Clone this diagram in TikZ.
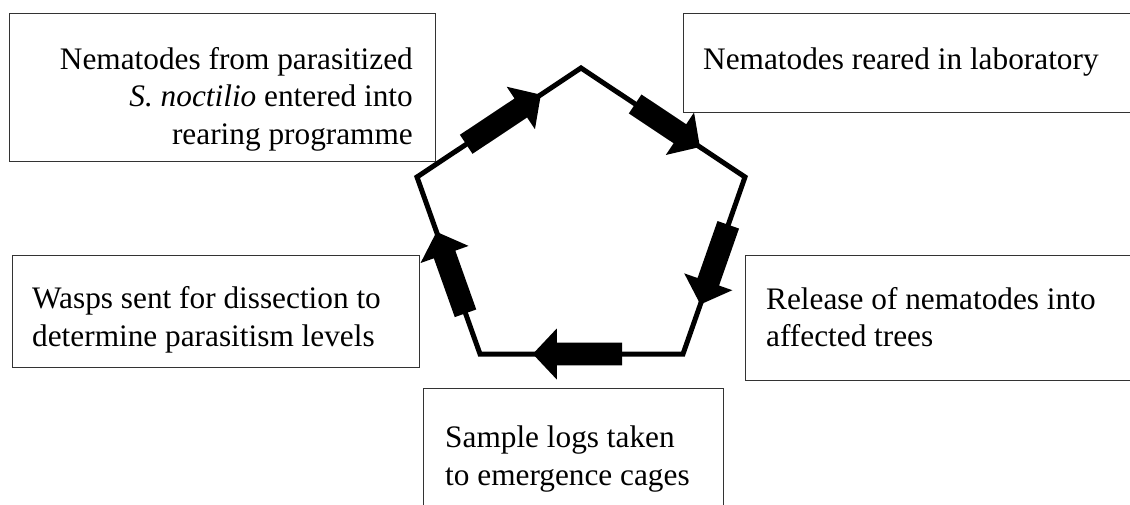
\documentclass[tikz,border=0pt]{standalone}
\usepackage{fontspec}
\setmainfont{Liberation Serif}
\usetikzlibrary{calc}
\tikzset{
  box/.style={draw=black!80, line width=0.9pt, inner sep=0pt},
  txt/.style={inner sep=0pt, font=\fontsize{31.3}{37.5}\selectfont},
  cyc/.style={line width=5pt, line join=miter},
  blk/.style={fill=black, draw=none},
}
\newcommand{\blkarrow}[4]{%
  \coordinate (S) at ($(#1)!#3!(#2)$);
  \coordinate (P) at ($(#1)!#4!(#2)$);
  \coordinate (H) at ($(P)!24pt!(S)$);
  \fill[blk] ($(S)!11.4pt!90:(P)$) -- ($(H)!11.4pt!90:(P)$) -- ($(H)!25.5pt!90:(P)$)
    -- (P) -- ($(H)!25.5pt!-90:(P)$) -- ($(H)!11.4pt!-90:(P)$) -- ($(S)!11.4pt!-90:(P)$) -- cycle;
}
\begin{document}
\begin{tikzpicture}[x=1pt,y=-1pt]
\useasboundingbox (0,0) rectangle (1130,505);
% boxes
\node[box, minimum width=426pt, minimum height=148pt] (b1) at (222,87) {};
\node[box, minimum width=452pt, minimum height=99pt] (b2) at (909,62.5) {};
\node[box, minimum width=390pt, minimum height=125pt] (b3) at (940,317.5) {};
\node[box, minimum width=300pt, minimum height=141pt] (b4) at (573,459) {};
\node[box, minimum width=407pt, minimum height=112pt] (b5) at (215.5,311) {};
% texts
\node[txt, anchor=east, align=right] (t1) at (413,99)
  {Nematodes from parasitized\\\textit{S. noctilio} entered into\\rearing programme};
\node[txt, anchor=west, align=left] (t2) at (703,62) {Nematodes reared in laboratory};
\node[txt, anchor=west, align=left] (t3) at (766,317) {Release of nematodes into\\affected trees};
\node[txt, anchor=west, align=left] (t4) at (445,459) {Sample logs taken\\to emergence cages};
\node[txt, anchor=west, align=left] (t5) at (32,320) {Wasps sent for dissection to\\determine parasitism levels};
% pentagon
\coordinate (T) at (581,68);
\coordinate (RU) at (745,177);
\coordinate (RL) at (683,354);
\coordinate (LL) at (480,354);
\coordinate (LU) at (417,177);
\draw[cyc] (T) -- (RU) -- (RL) -- (LL) -- (LU) -- cycle;
% block arrows
\blkarrow{LU}{T}{0.30}{0.755}
\blkarrow{T}{RU}{0.33}{0.725}
\blkarrow{RU}{RL}{0.27}{0.72}
\blkarrow{RL}{LL}{0.30}{0.74}
\blkarrow{LL}{LU}{0.23}{0.69}
\end{tikzpicture}
\end{document}
